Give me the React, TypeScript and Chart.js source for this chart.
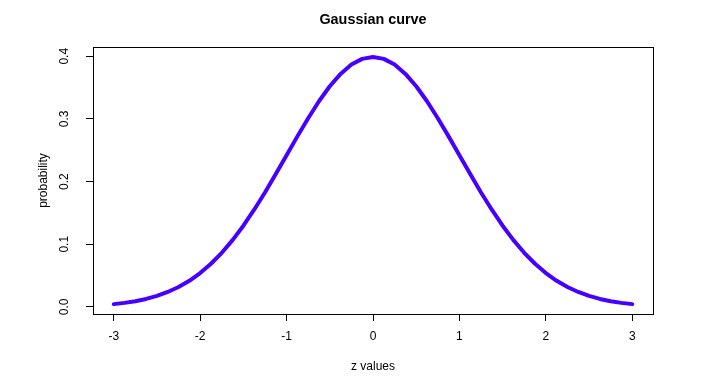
import React, { useEffect, useRef } from 'react';
import { Chart, registerables } from 'chart.js';

Chart.register(...registerables);

const zValues = [
  -3, -2.875, -2.75, -2.625, -2.5, -2.375, -2.25, -2.125, -2, -1.875, -1.75, -1.625, -1.5, -1.375, -1.25, -1.125,
  -1, -0.875, -0.75, -0.625, -0.5, -0.375, -0.25, -0.125, 0, 0.125, 0.25, 0.375, 0.5, 0.625, 0.75, 0.875,
  1, 1.125, 1.25, 1.375, 1.5, 1.625, 1.75, 1.875, 2, 2.125, 2.25, 2.375, 2.5, 2.625, 2.75, 2.875, 3,
];
const probabilities = [
  0.0044, 0.0064, 0.0091, 0.0127, 0.0175, 0.0238, 0.0317, 0.0417, 0.054, 0.0688, 0.0863, 0.1065, 0.1295, 0.1551, 0.1826, 0.2119,
  0.242, 0.2721, 0.3011, 0.3282, 0.3521, 0.3718, 0.3867, 0.3958, 0.3989, 0.3958, 0.3867, 0.3718, 0.3521, 0.3282, 0.3011, 0.2721,
  0.242, 0.2119, 0.1826, 0.1551, 0.1295, 0.1065, 0.0863, 0.0688, 0.054, 0.0417, 0.0317, 0.0238, 0.0175, 0.0127, 0.0091, 0.0064, 0.0044,
];
const xTickValues = [-3, -2, -1, 0, 1, 2, 3];
const yTickValues = [0, 0.1, 0.2, 0.3, 0.4];
const chartTitle = 'Gaussian curve';
const xAxisTitle = 'z values';
const yAxisTitle = 'probability';

const FONT = '"Liberation Sans", Arial, sans-serif';

const boxPlugin = {
  id: 'plotBox',
  afterDraw(chart: any) {
    const { ctx, chartArea: a } = chart;
    ctx.save();
    ctx.strokeStyle = '#000000';
    ctx.lineWidth = 1;
    ctx.strokeRect(Math.round(a.left) + 0.5, Math.round(a.top) + 0.5, Math.round(a.right - a.left), Math.round(a.bottom - a.top));
    ctx.restore();
  },
};

export default function App() {
  const canvasRef = useRef<HTMLCanvasElement | null>(null);

  useEffect(() => {
    if (!canvasRef.current) return;
    const points = zValues.map((z, i) => ({ x: z, y: probabilities[i] }));
    const chart = new Chart(canvasRef.current, {
      type: 'scatter',
      data: {
        datasets: [
          {
            data: points,
            showLine: true,
            borderColor: '#4600ff',
            backgroundColor: '#4600ff',
            borderWidth: 4,
            pointRadius: 0,
            pointHoverRadius: 0,
            tension: 0,
            borderCapStyle: 'round',
            borderJoinStyle: 'round',
          } as any,
        ],
      },
      options: {
        animation: false,
        responsive: false,
        devicePixelRatio: 1,
        events: [],
        layout: { padding: { left: 0, right: 49, top: 0, bottom: 0 } },
        plugins: {
          legend: { display: false },
          tooltip: { enabled: false },
          title: {
            display: true,
            text: chartTitle,
            fullSize: false,
            color: '#000000',
            font: { family: FONT, size: 14.4, weight: 'bold', lineHeight: 1.2 },
            padding: { top: 11, bottom: 18.72 },
          },
        },
        scales: {
          x: {
            type: 'linear',
            min: -3.24,
            max: 3.24,
            afterBuildTicks: (scale: any) => {
              scale.ticks = xTickValues.map((v) => ({ value: v }));
            },
            afterFit: (scale: any) => {
              scale.height = 75;
            },
            border: { display: false },
            grid: {
              display: true,
              drawOnChartArea: false,
              drawTicks: true,
              tickLength: 7,
              tickColor: '#000000',
              lineWidth: 1,
            },
            ticks: {
              color: '#000000',
              font: { family: FONT, size: 12 },
              padding: 8,
              maxRotation: 0,
              minRotation: 0,
              callback: (v: any) => String(v),
            },
            title: {
              display: true,
              text: xAxisTitle,
              color: '#000000',
              font: { family: FONT, size: 12, lineHeight: 1.2 },
              padding: { top: 0, bottom: 15.3 },
            },
          },
          y: {
            type: 'linear',
            min: -0.01135,
            max: 0.41472,
            afterBuildTicks: (scale: any) => {
              scale.ticks = yTickValues.map((v) => ({ value: v }));
            },
            afterFit: (scale: any) => {
              scale.width = 93;
            },
            border: { display: false },
            grid: {
              display: true,
              drawOnChartArea: false,
              drawTicks: true,
              tickLength: 7,
              tickColor: '#000000',
              lineWidth: 1,
            },
            ticks: {
              color: '#000000',
              font: { family: FONT, size: 12 },
              padding: 13,
              minRotation: 90,
              maxRotation: 90,
              crossAlign: 'center',
              callback: (v: any) => Number(v).toFixed(1),
            },
            title: {
              display: true,
              text: yAxisTitle,
              color: '#000000',
              font: { family: FONT, size: 12, lineHeight: 1.2 },
              padding: { top: 36.8, bottom: 0 },
            },
          },
        },
      },
      plugins: [boxPlugin],
    });
    return () => chart.destroy();
  }, []);

  return (
    <div style={{ position: 'fixed', left: 0, top: 0, width: 702, height: 389, background: '#ffffff' }}>
      <canvas ref={canvasRef} width={702} height={389} style={{ display: 'block' }} />
    </div>
  );
}
